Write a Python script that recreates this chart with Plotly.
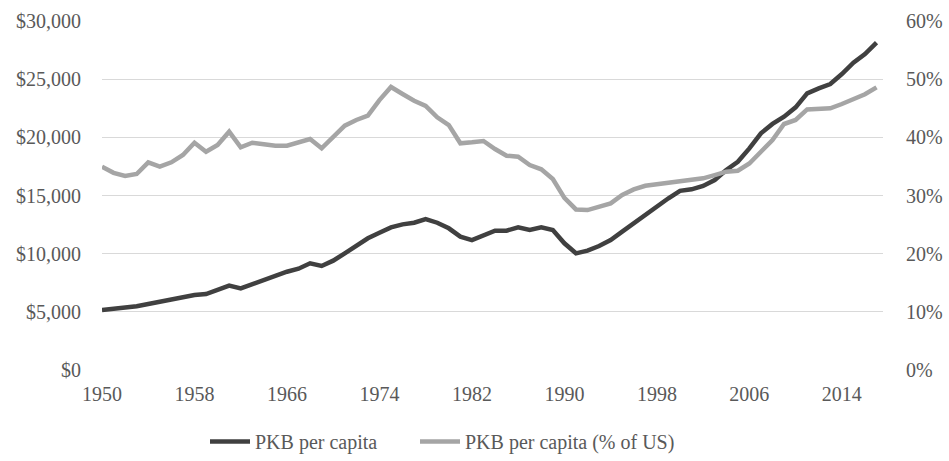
import plotly.graph_objects as go

years = list(range(1950, 2018))

gdp_per_capita = [
    5160, 5250, 5300, 5480, 5670, 5880, 6100, 6280, 6450, 6530,
    6880, 7250, 7020, 7390, 7680, 8080, 8450, 8710, 9170, 8940,
    9400, 10030, 10690, 11320, 11800, 12260, 12520, 12660, 12980, 12660,
    12180, 11460, 11170, 11600, 11980, 11980, 12260, 12030, 12260, 12030,
    10890, 10030, 10260, 10660, 11170, 11890, 12610, 13380, 14040, 14760,
    15400, 15530, 15820, 16330, 17190, 17900, 19050, 20350, 21150, 21780,
    22580, 23780, 24210, 24580, 25440, 26410, 27160, 28140,
]

pct_of_us = [
    34.95, 33.9, 33.35, 33.7, 35.7, 34.95, 35.7, 36.96, 39.07, 37.53,
    38.68, 40.97, 38.28, 39.07, 38.8, 38.56, 38.56, 39.14, 39.71, 38.11,
    40.1, 42.0, 42.98, 43.72, 46.4, 48.65, 47.45, 46.3, 45.4, 43.44,
    42.1, 38.97, 39.14, 39.37, 37.99, 36.84, 36.67, 35.24, 34.5, 32.83,
    29.6, 27.6, 27.5, 28.07, 28.65, 30.08, 31.05, 31.68, 31.91, 32.1,
    32.4, 32.66, 32.95, 33.5, 34.09, 34.26, 35.5, 37.53, 39.54, 42.29,
    42.98, 44.8, 44.8, 44.99, 45.73, 46.5, 47.4, 48.6,
]
pct_frac = [v / 100 for v in pct_of_us]

x_ticks = list(range(1950, 2015, 8))
left_ticks = [0, 5000, 10000, 15000, 20000, 25000, 30000]
left_labels = ["$0", "$5,000", "$10,000", "$15,000", "$20,000", "$25,000", "$30,000"]
right_ticks = [0, 0.1, 0.2, 0.3, 0.4, 0.5, 0.6]
right_labels = ["0%", "10%", "20%", "30%", "40%", "50%", "60%"]

FONT = "'Liberation Serif', 'DejaVu Serif', serif"
TXT = "#595959"

fig = go.Figure()
fig.add_trace(go.Scatter(
    x=years, y=gdp_per_capita, name="PKB per capita", mode="lines",
    line=dict(color="#404040", width=4.5), yaxis="y", legend="legend",
))
fig.add_trace(go.Scatter(
    x=years, y=pct_frac, name="PKB per capita (% of US)", mode="lines",
    line=dict(color="#A5A5A5", width=4.5), yaxis="y2", legend="legend2",
))

leg_common = dict(
    orientation="h", xref="container", yref="container",
    xanchor="left", y=-0.015, yanchor="bottom",
    font=dict(family=FONT, size=20, color=TXT),
    itemwidth=40, bgcolor="rgba(0,0,0,0)",
)

fig.update_layout(
    width=949, height=461,
    margin=dict(l=102, r=66, t=21, b=91, autoexpand=False),
    paper_bgcolor="white", plot_bgcolor="white",
    font=dict(family=FONT, size=20, color=TXT),
    showlegend=True,
    legend=dict(x=205 / 949, **leg_common),
    legend2=dict(x=415 / 949, **leg_common),
    xaxis=dict(
        range=[1950, 2017.56], tickvals=x_ticks, showgrid=False,
        zeroline=False, showline=False, ticks="outside", ticklen=6,
        tickcolor="rgba(0,0,0,0)", automargin=False,
    ),
    yaxis=dict(
        range=[0, 30000], tickvals=left_ticks, ticktext=left_labels,
        showgrid=True, gridcolor="#D9D9D9",
        gridwidth=1.3, zeroline=False, showline=False, ticks="outside",
        ticklen=16, tickcolor="rgba(0,0,0,0)", automargin=False,
    ),
    yaxis2=dict(
        range=[0, 0.6], tickvals=right_ticks, ticktext=right_labels,
        overlaying="y", side="right", showgrid=False,
        zeroline=False, showline=False, ticks="outside", ticklen=18,
        tickcolor="rgba(0,0,0,0)", automargin=False,
    ),
)

fig.write_html(
    "out.html",
    config={"displayModeBar": False},
    post_script="document.body.style.margin='0';document.body.style.padding='0';",
)
